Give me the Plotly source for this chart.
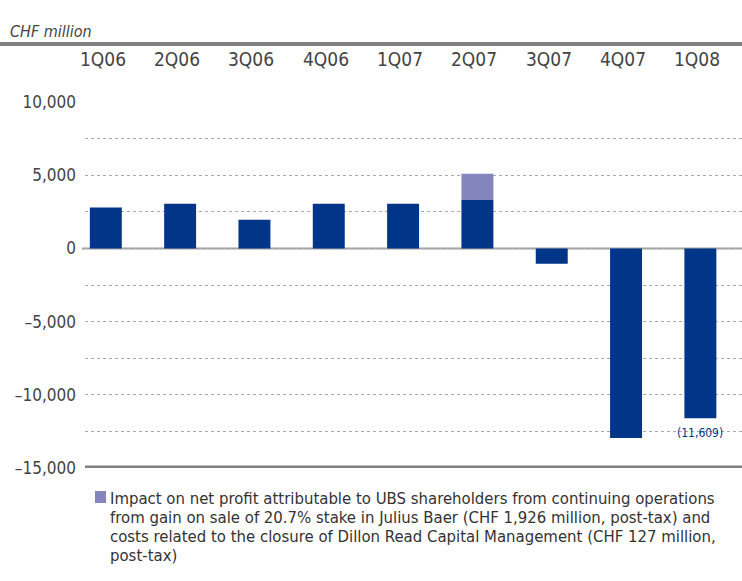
import plotly.graph_objects as go

categories = ["1Q06", "2Q06", "3Q06", "4Q06", "1Q07", "2Q07", "3Q07", "4Q07", "1Q08"]
net_profit = [2800, 3050, 1960, 3050, 3050, 3300, -1040, -12950, -11609]
impact = [None, None, None, None, None, 1799, None, None, None]
ytick_vals = [10000, 5000, 0, -5000, -10000, -15000]
ytick_text = ["10,000", "5,000", "0", "\u20135,000", "\u201310,000", "\u201315,000"]
legend_lines = [
    "Impact on net profit attributable to UBS shareholders from continuing operations",
    "from gain on sale of 20.7% stake in Julius Baer (CHF 1,926 million, post-tax) and",
    "costs related to the closure of Dillon Read Capital Management (CHF 127 million,",
    "post-tax)",
]
label_text = "(11,609)"

FONT = "DejaVu Sans Condensed, Liberation Sans Narrow, sans-serif"
DARK = "#003587"
LIGHT = "#8585bd"
GREY = "#808080"

W, H = 742, 581
def py(px):
    return (H - px) / H

fig = go.Figure()
fig.add_trace(go.Bar(x=categories, y=net_profit, marker=dict(color=DARK, line=dict(width=0)),
                     width=0.43, showlegend=False, name="Net profit"))
fig.add_trace(go.Bar(x=categories, y=impact, marker=dict(color=LIGHT, line=dict(width=0)),
                     width=0.43, name="Julius Baer / DRCM impact", showlegend=False))

fig.update_layout(
    width=W, height=H, barmode="relative",
    margin=dict(l=0, r=0, t=0, b=0, autoexpand=False),
    paper_bgcolor="white", plot_bgcolor="white",
    font=dict(family=FONT, size=15, color="#444444"),
    xaxis=dict(domain=[85 / W, 1], range=[-0.28, 8.56], showticklabels=False,
               showgrid=False, zeroline=False, showline=False, fixedrange=True),
    yaxis=dict(domain=[py(468), py(102)], range=[-15000, 10000],
               tickvals=ytick_vals, ticktext=ytick_text,
               showgrid=True, gridcolor="#a8a8a8", griddash="dot", gridwidth=1,
               minor=dict(dtick=2500, showgrid=True, gridcolor="#a8a8a8", griddash="dot", gridwidth=1),
               zeroline=False, showline=False, ticks="", ticklabelstandoff=8,
               tickfont=dict(size=17, color="#444444")),
    showlegend=False,
)

# category labels along the top
for c in categories:
    fig.add_annotation(x=c, xref="x", y=py(59), yref="paper", text=c, showarrow=False,
                       xshift=-3, font=dict(size=19, color="#444444"), yanchor="middle")

# value label under 1Q08
fig.add_annotation(x=categories[-1], xref="x", y=net_profit[-1], yref="y", text=label_text,
                   showarrow=False, yanchor="top", yshift=-6,
                   font=dict(size=12, color=DARK))

# title
fig.add_annotation(x=8 / W, xref="paper", y=py(20), yref="paper", text="<i>CHF million</i>",
                   showarrow=False, xanchor="left", font=dict(size=16, color="#444444"))

# legend (custom)
fig.add_shape(type="rect", xref="paper", yref="paper", x0=95 / W, x1=106 / W,
              y0=py(503), y1=py(491), fillcolor=LIGHT, line=dict(width=0))
for i, line in enumerate(legend_lines):
    fig.add_annotation(x=108 / W, xref="paper", y=py(498 + 19 * i), yref="paper", text=line,
                       showarrow=False, xanchor="left", yanchor="middle", align="left",
                       font=dict(size=16.6, color="#333333"))

# top rule
fig.add_shape(type="line", xref="paper", yref="paper", x0=0, x1=1, y0=py(44), y1=py(44),
              line=dict(color=GREY, width=4))
# zero line
fig.add_shape(type="line", xref="paper", yref="y", x0=82 / W, x1=1, y0=0, y1=0,
              line=dict(color="#a0a0a0", width=2), layer="below")
# bottom rule
fig.add_shape(type="line", xref="paper", yref="y", x0=85 / W, x1=1, y0=-15000, y1=-15000,
              line=dict(color=GREY, width=5))

fig.write_html("out.html", config={"displayModeBar": False},
               post_script="document.body.style.margin='0';")
